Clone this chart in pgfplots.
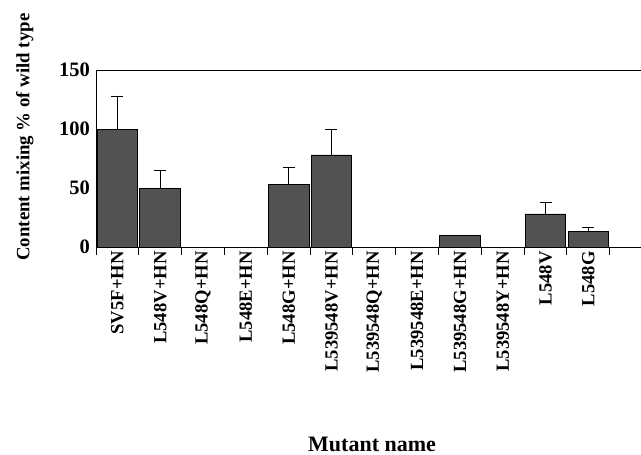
\documentclass[border=0pt]{standalone}
\usepackage{pgfplots}
\pgfplotsset{compat=1.18}
\usepackage{fontspec}
\setmainfont{Liberation Serif}
\definecolor{barfill}{RGB}{82,82,82}
\pgfplotstableread{
x y err
0 100 28
1 50 15
2 0 0
3 0 0
4 53 14
5 78 21.5
6 0 0
7 0 0
8 10 0
9 0 0
10 28 10
11 13 3.7
}\datatable
\begin{document}
\begin{tikzpicture}
\useasboundingbox (-96pt,-208pt) rectangle (545pt,247pt);
\begin{axis}[
  scale only axis, width=560pt, height=177pt,
  anchor=south west, at={(0pt,0pt)},
  axis line style={line width=0.9pt},
  xtick pos=bottom, ytick pos=left,
  xtick align=outside,
  xmin=-0.5, xmax=12.58, ymin=0, ymax=150,
  ytick={0,50,100,150},
  ytick style={/pgfplots/major tick length=0pt},
  xtick={-0.5,0.5,...,11.5},
  x tick label as interval=true,
  xtick style={line width=0.9pt, black, /pgfplots/major tick length=8pt},
  xticklabels={SV5F+HN,L548V+HN,L548Q+HN,L548E+HN,L548G+HN,L539548V+HN,L539548Q+HN,L539548E+HN,L539548G+HN,L539548Y+HN,L548V,L548G},
  /pgf/number format/assume math mode=true,
  xticklabel style={font=\bfseries\fontsize{18.6}{20}\selectfont, rotate=90, anchor=east, inner xsep=0pt},
  yticklabel style={font=\bfseries\fontsize{20.5}{22}\selectfont, inner xsep=6pt},
  ylabel={Content mixing \% of wild type},
  ylabel style={font=\bfseries\fontsize{18.8}{22}\selectfont, at={(axis description cs:-0.127,0.621)}, anchor=center},
  xlabel={Mutant name},
  xlabel style={font=\bfseries\fontsize{22}{24}\selectfont, at={(axis description cs:0.493,-1.113)}, anchor=center},
  clip=false,
]
\addplot[ybar, bar width=0.95, fill=barfill, draw=black, line width=0.9pt,
  error bars/.cd, y dir=plus, y explicit,
  error mark options={rotate=90, mark size=6pt, line width=0.9pt, black},
  error bar style={line width=0.9pt, black}]
  table[x=x, y=y, y error=err] {\datatable};
\end{axis}
\end{tikzpicture}
\end{document}
